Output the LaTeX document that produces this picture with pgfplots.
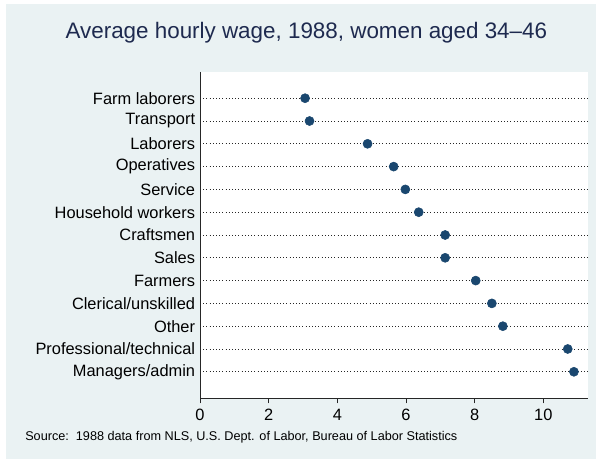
\documentclass[border=0pt]{standalone}
\usepackage{pgfplots}
\pgfplotsset{compat=1.18}
\usepackage{fontspec}
\setmainfont{Liberation Sans}
\definecolor{bg}{HTML}{EAF2F3}
\definecolor{dotc}{HTML}{1A476F}
\definecolor{titlec}{HTML}{1E2A4F}
\begin{document}
\begin{tikzpicture}[x=1pt,y=1pt]
\fill[white] (0,0) rectangle (447,344.25);
\fill[bg] (4.5,0) rectangle (447,341.25);
\begin{axis}[at={(150pt,45.75pt)}, anchor=south west, scale only axis,
  width=291pt, height=244.5pt,
  xmin=0, xmax=11.3, ymin=-1.15, ymax=13.15, y dir=reverse,
  axis x line*=bottom, axis y line*=left,
  axis background/.style={fill=white},
  axis line style={black!85, line width=0.6pt},
  xtick={0,2,4,6,8,10},
  ytick={0,1,...,12},
  yticklabels={Farm laborers,Transport,Laborers,Operatives,Service,Household workers,Craftsmen,Sales,Farmers,Clerical/unskilled,Other,Professional/technical,Managers/admin},
  tick align=outside,
  xtick style={black!85, line width=0.6pt},
  x tick label style={yshift=-1pt},
  major tick length=4pt,
  ytick style={draw=none},
  y tick label style={inner sep=0pt, xshift=0.5pt},
  ymajorgrids,
  grid style={dotted, black!85, line width=0.6pt},
  tick label style={font=\fontsize{12.3}{14}\selectfont},
  /pgf/number format/assume math mode=true,
  clip=false,
]
\addplot[only marks, mark=*, mark size=3.4pt, dotc] table {
x y
3.06 0
3.19 1
4.88 2
5.64 3
5.98 4
6.37 5
7.14 6
7.14 7
8.03 8
8.50 9
8.82 10
10.71 11
10.89 12
};
\end{axis}
\node[titlec, font=\fontsize{16.8}{20}\selectfont] at (229.8,319.5) {Average hourly wage, 1988, women aged 34–46};
\node[anchor=west, inner sep=0pt, font=\fontsize{9.5}{11}\selectfont] at (18.75,16.5) {Source:\ \ 1988 data from NLS, U.S. Dept. of Labor, Bureau of Labor Statistics};
\end{tikzpicture}
\end{document}
